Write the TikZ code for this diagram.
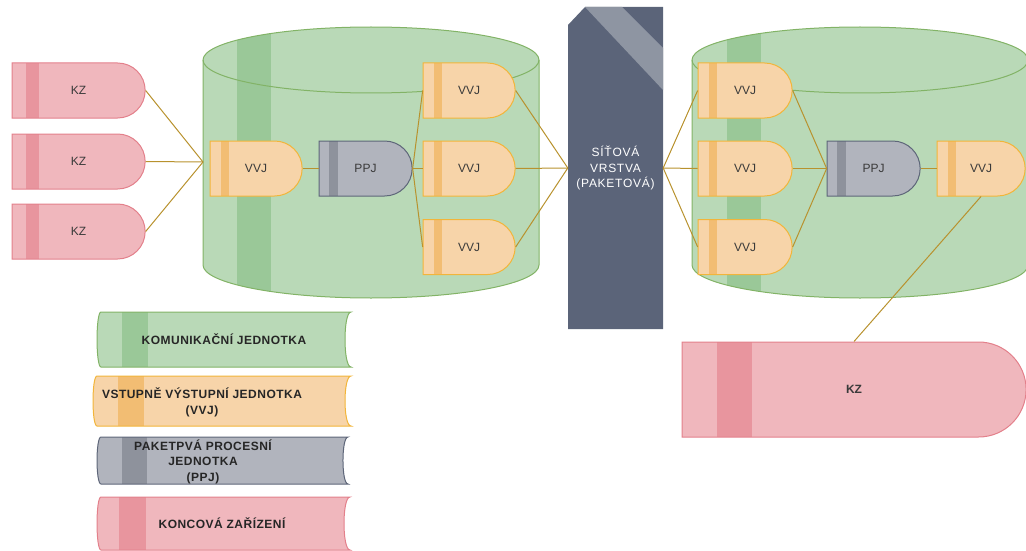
\documentclass[tikz,border=0pt]{standalone}
\usepackage{fontspec}
\setmainfont{Liberation Sans}
\newfontfamily\spacedfont[LetterSpace=4]{Liberation Sans}
\newfontfamily\netfont[LetterSpace=6]{Liberation Sans}
\usetikzlibrary{shapes.misc}
\definecolor{kzfill}{HTML}{F0B7BD}
\definecolor{kzdark}{HTML}{E8959E}
\definecolor{kzline}{HTML}{E3808B}
\definecolor{vfill}{HTML}{F7D4A9}
\definecolor{vdark}{HTML}{F2BD73}
\definecolor{vline}{HTML}{F2B53A}
\definecolor{pfill}{HTML}{B1B4BD}
\definecolor{pdark}{HTML}{8E929C}
\definecolor{pline}{HTML}{5E6679}
\definecolor{gfill}{HTML}{B9D9B7}
\definecolor{gdark}{HTML}{9AC898}
\definecolor{gline}{HTML}{82B366}
\definecolor{netc}{HTML}{5B6479}
\definecolor{netband}{HTML}{8E95A2}
\definecolor{linkc}{HTML}{B8922E}
\definecolor{txt}{HTML}{3A3A3A}
\newcommand\mycylpath[1]{(#1,-60) -- (#1,-265) arc[start angle=180,end angle=360,x radius=168pt,y radius=33pt] -- ++(0,205) arc[start angle=0,end angle=180,x radius=168pt,y radius=33pt] -- cycle}
\newcommand\mycyl[3]{%
  \begin{scope}
    \fill[gfill] \mycylpath{#1};
    \clip \mycylpath{#1};
    \fill[gdark] (#2,0) rectangle (#3,-310);
  \end{scope}
  \draw[gline,line width=1pt] \mycylpath{#1};
  \draw[gline,line width=1pt] (#1,-60) arc[start angle=180,end angle=360,x radius=168pt,y radius=33pt];
}
\tikzset{
  shp/.style={rounded rectangle, rounded rectangle left arc=none, inner sep=0pt, line width=1pt,
    font=\fontsize{12}{14}\selectfont, text=txt},
  stripe/.style n args={3}{path picture={\fill[#3] ([xshift=#1]path picture bounding box.north west) rectangle ([xshift=#1+#2]path picture bounding box.south west);}},
  kz/.style={shp, fill=kzfill, draw=kzline, stripe={14pt}{13pt}{kzdark}, minimum width=133pt, minimum height=55pt},
  vvj/.style={shp, fill=vfill, draw=vline, stripe={11pt}{8pt}{vdark}, minimum width=92pt, minimum height=55pt},
  ppj/.style={shp, fill=pfill, draw=pline, stripe={10pt}{9pt}{pdark}, minimum width=93pt, minimum height=55pt},
  link/.style={draw=linkc, line width=1pt},
  legtext/.style={font=\spacedfont\fontsize{12}{15.5}\selectfont\bfseries, text=black!85, align=center, inner sep=0pt},
}
\begin{document}
\begin{tikzpicture}[x=1pt,y=1pt]
\useasboundingbox (0,0) rectangle (1026,-551);
\clip (0,0) rectangle (1026,-551);
% cylinders
\mycyl{203}{237}{271}
\mycyl{692}{727}{761}
\coordinate (cylL) at (203,-162);
% left end devices
\node[kz] (kz1) at (78.5,-90.5) {KZ};
\node[kz] (kz2) at (78.5,-161.5) {KZ};
\node[kz] (kz3) at (78.5,-231.5) {KZ};
% left unit
\node[vvj] (vvjA) at (256,-168.5) {VVJ};
\node[ppj] (ppjA) at (365.5,-168.5) {PPJ};
\node[vvj] (vvjB1) at (469,-90.5) {VVJ};
\node[vvj] (vvjB2) at (469,-168.5) {VVJ};
\node[vvj] (vvjB3) at (469,-247) {VVJ};
% network layer
\fill[netc] (568,-25) -- (585,-7) -- (663,-7) -- (663,-329) -- (568,-329) -- cycle;
\fill[netband] (585,-7) -- (622,-7) -- (663,-48) -- (663,-90) -- cycle;
\node[minimum width=95pt, minimum height=322pt, inner sep=0pt, text=white, align=center,
  font=\netfont\fontsize{12}{15.5}\selectfont] (net) at (615.5,-168) {SÍŤOVÁ\\VRSTVA\\(PAKETOVÁ)};
% right unit
\node[vvj, minimum width=94pt] (vvjC1) at (745,-90.5) {VVJ};
\node[vvj, minimum width=94pt] (vvjC2) at (745,-168.5) {VVJ};
\node[vvj, minimum width=94pt] (vvjC3) at (745,-247) {VVJ};
\node[ppj] (ppjB) at (873.5,-168.5) {PPJ};
\node[vvj, minimum width=88pt] (vvjD) at (981,-168.5) {VVJ};
\node[kz, minimum width=344pt, minimum height=95pt, stripe={35pt}{35pt}{kzdark}, font=\fontsize{12}{14}\selectfont\bfseries] (kzBig) at (854,-389.5) {KZ};
% connectors
\draw[link] (kz1.east) -- (cylL);
\draw[link] (kz2.east) -- (cylL);
\draw[link] (kz3.east) -- (cylL);
\draw[link] (vvjA.east) -- (ppjA.west);
\draw[link] (ppjA.east) -- (vvjB1.west);
\draw[link] (ppjA.east) -- (vvjB2.west);
\draw[link] (ppjA.east) -- (vvjB3.west);
\draw[link] (vvjB1.east) -- (net.west);
\draw[link] (vvjB2.east) -- (net.west);
\draw[link] (vvjB3.east) -- (net.west);
\draw[link] (net.east) -- (vvjC1.west);
\draw[link] (net.east) -- (vvjC2.west);
\draw[link] (net.east) -- (vvjC3.west);
\draw[link] (vvjC1.east) -- (ppjB.west);
\draw[link] (vvjC2.east) -- (ppjB.west);
\draw[link] (vvjC3.east) -- (ppjB.west);
\draw[link] (ppjB.east) -- (vvjD.west);
\draw[link] (vvjD.south) -- (kzBig.north);
% legend
\fill[gfill] (101,-312) -- (351,-312) .. controls (343,-312) and (343,-367) .. (351,-367) -- (101,-367) .. controls (95.7,-367) and (95.7,-312) .. (101,-312) -- cycle;
\fill[gdark] (122,-312) rectangle (148,-367);
\draw[gline,line width=1pt] (101,-312) -- (351,-312) .. controls (343,-312) and (343,-367) .. (351,-367) -- (101,-367) .. controls (95.7,-367) and (95.7,-312) .. (101,-312) -- cycle;
\node[legtext] (legK) at (224,-339) {KOMUNIKAČNÍ JEDNOTKA};
\fill[vfill] (97,-376) -- (351,-376) .. controls (343,-376) and (343,-426) .. (351,-426) -- (97,-426) .. controls (91.7,-426) and (91.7,-376) .. (97,-376) -- cycle;
\fill[vdark] (118,-376) rectangle (144,-426);
\draw[vline,line width=1pt] (97,-376) -- (351,-376) .. controls (343,-376) and (343,-426) .. (351,-426) -- (97,-426) .. controls (91.7,-426) and (91.7,-376) .. (97,-376) -- cycle;
\node[legtext] (legV) at (202,-402.5) {VSTUPNĚ VÝSTUPNÍ JEDNOTKA\\(VVJ)};
\fill[pfill] (101,-437) -- (348,-437) .. controls (341.3,-437) and (341.3,-484) .. (348,-484) -- (101,-484) .. controls (95.7,-484) and (95.7,-437) .. (101,-437) -- cycle;
\fill[pdark] (122,-437) rectangle (147,-484);
\draw[pline,line width=1pt] (101,-437) -- (348,-437) .. controls (341.3,-437) and (341.3,-484) .. (348,-484) -- (101,-484) .. controls (95.7,-484) and (95.7,-437) .. (101,-437) -- cycle;
\node[legtext] (legP) at (203,-461.5) {PAKETPVÁ PROCESNÍ\\JEDNOTKA\\(PPJ)};
\fill[kzfill] (101,-497) -- (350,-497) .. controls (342,-497) and (342,-550) .. (350,-550) -- (101,-550) .. controls (95.7,-550) and (95.7,-497) .. (101,-497) -- cycle;
\fill[kzdark] (119,-497) rectangle (146,-550);
\draw[kzline,line width=1pt] (101,-497) -- (350,-497) .. controls (342,-497) and (342,-550) .. (350,-550) -- (101,-550) .. controls (95.7,-550) and (95.7,-497) .. (101,-497) -- cycle;
\node[legtext] (legZ) at (222,-523) {KONCOVÁ ZAŘÍZENÍ};
\end{tikzpicture}
\end{document}
